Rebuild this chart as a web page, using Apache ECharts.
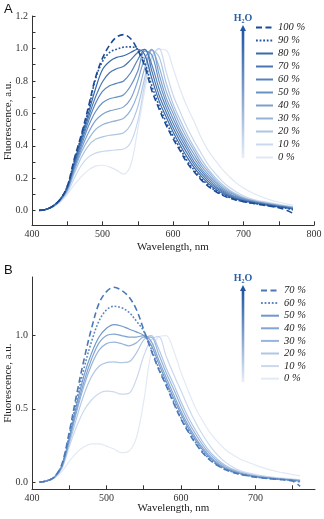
<!DOCTYPE html>
<html>
<head>
<meta charset="utf-8">
<script src="https://cdn.jsdelivr.net/npm/echarts@6/dist/echarts.min.js"></script>
<style>
  html, body { margin: 0; padding: 0; background: #fff; }
  #chart-container { width: 324px; height: 519px; }
</style>
</head>
<body>
<div id="chart-container"></div>
<script>
// wavelength grids (nm)
var wlA = [410,420,430,440,450,460,470,480,490,500,510,520,530,540,550,560,570,580,590,600,610,620,630,640,650,660,670,680,690,700,710,720,730,740,750,760,770];
var wlB = [410,420,430,440,450,460,470,480,490,500,510,520,530,540,550,560,570,580,590,600,610,620,630,640,650,660,670,680,690,700,710,720,730,740,750,760];

// panel A, water fraction 100 % ... 0 %
var a100 = [0.002,0.008,0.03,0.07,0.15,0.32,0.47,0.64,0.82,0.94,1.02,1.07,1.085,1.06,0.99,0.89,0.74,0.63,0.53,0.445,0.37,0.295,0.24,0.19,0.15,0.12,0.096,0.078,0.065,0.055,0.047,0.04,0.033,0.026,0.018,0.005,-0.016];
var a90 = [0.002,0.008,0.03,0.07,0.15,0.31,0.46,0.62,0.81,0.92,0.975,0.995,1.008,1.01,0.995,0.91,0.77,0.65,0.55,0.462,0.384,0.309,0.25,0.199,0.157,0.125,0.1,0.082,0.067,0.057,0.048,0.041,0.035,0.028,0.022,0.016,0.005];
var a80 = [0.002,0.008,0.03,0.07,0.145,0.30,0.45,0.60,0.75,0.87,0.92,0.945,0.955,0.975,0.995,0.96,0.815,0.68,0.58,0.487,0.405,0.33,0.265,0.213,0.168,0.134,0.107,0.087,0.071,0.06,0.051,0.043,0.036,0.03,0.024,0.018,0.01];
var a70 = [0.002,0.008,0.029,0.069,0.142,0.29,0.435,0.575,0.70,0.795,0.85,0.875,0.89,0.93,0.975,0.995,0.86,0.715,0.61,0.513,0.429,0.354,0.283,0.229,0.181,0.144,0.115,0.092,0.075,0.063,0.054,0.046,0.038,0.031,0.025,0.019,0.012];
var a60 = [0.002,0.008,0.028,0.068,0.14,0.28,0.42,0.55,0.66,0.735,0.77,0.785,0.80,0.85,0.93,0.995,0.90,0.755,0.64,0.54,0.453,0.377,0.301,0.245,0.195,0.153,0.123,0.098,0.08,0.066,0.056,0.048,0.041,0.034,0.027,0.021,0.014];
var a50 = [0.002,0.008,0.028,0.066,0.135,0.27,0.40,0.52,0.61,0.665,0.69,0.70,0.715,0.77,0.86,0.985,0.96,0.80,0.67,0.57,0.478,0.398,0.323,0.26,0.208,0.164,0.131,0.105,0.085,0.07,0.059,0.05,0.043,0.036,0.029,0.023,0.016];
var a40 = [0.002,0.008,0.027,0.064,0.13,0.26,0.38,0.48,0.555,0.595,0.615,0.625,0.64,0.69,0.80,0.94,0.995,0.845,0.70,0.60,0.50,0.42,0.346,0.277,0.224,0.177,0.14,0.112,0.091,0.074,0.062,0.053,0.045,0.038,0.031,0.025,0.018];
var a30 = [0.002,0.008,0.026,0.062,0.125,0.245,0.36,0.44,0.50,0.53,0.545,0.555,0.57,0.62,0.72,0.88,0.99,0.89,0.74,0.63,0.53,0.445,0.37,0.295,0.24,0.19,0.15,0.12,0.096,0.078,0.065,0.055,0.047,0.04,0.033,0.026,0.02];
var a20 = [0.002,0.008,0.025,0.06,0.12,0.23,0.33,0.40,0.44,0.455,0.465,0.47,0.48,0.53,0.64,0.82,0.99,0.95,0.79,0.66,0.56,0.47,0.39,0.318,0.255,0.204,0.161,0.128,0.103,0.083,0.069,0.058,0.05,0.042,0.035,0.028,0.022];
var a10 = [0.002,0.008,0.024,0.058,0.11,0.20,0.28,0.33,0.355,0.365,0.37,0.375,0.38,0.42,0.55,0.78,0.95,1.0,0.86,0.715,0.61,0.513,0.429,0.354,0.283,0.229,0.181,0.144,0.115,0.092,0.075,0.063,0.055,0.047,0.039,0.031,0.025];
var a0 = [0.002,0.007,0.022,0.052,0.10,0.16,0.21,0.25,0.275,0.28,0.27,0.25,0.225,0.28,0.50,0.74,0.93,0.995,0.99,0.88,0.75,0.64,0.55,0.45,0.37,0.31,0.255,0.21,0.17,0.14,0.115,0.095,0.078,0.064,0.052,0.042,0.034];

// panel B, water fraction 70 % ... 0 %
var b70 = [0.0,0.008,0.035,0.12,0.34,0.60,0.84,1.05,1.22,1.30,1.33,1.31,1.265,1.18,1.04,0.90,0.77,0.66,0.54,0.43,0.34,0.26,0.195,0.145,0.11,0.083,0.065,0.052,0.042,0.033,0.027,0.022,0.018,0.013,0.006,-0.03];
var b60 = [0.0,0.008,0.034,0.115,0.32,0.56,0.78,0.96,1.10,1.175,1.20,1.19,1.16,1.10,1.03,0.91,0.78,0.67,0.55,0.44,0.35,0.268,0.20,0.15,0.113,0.086,0.067,0.053,0.043,0.034,0.028,0.023,0.019,0.015,0.011,0.0];
var b50 = [0.0,0.008,0.033,0.11,0.30,0.53,0.73,0.88,0.99,1.05,1.075,1.065,1.045,1.025,1.0,0.935,0.81,0.69,0.575,0.465,0.367,0.284,0.214,0.16,0.12,0.09,0.071,0.056,0.045,0.036,0.029,0.024,0.02,0.016,0.012,0.005];
var b40 = [0.0,0.008,0.032,0.105,0.29,0.50,0.69,0.84,0.95,1.0,1.01,1.0,0.99,0.99,1.0,0.96,0.835,0.715,0.60,0.485,0.385,0.30,0.227,0.17,0.127,0.096,0.074,0.058,0.047,0.038,0.031,0.026,0.021,0.017,0.013,0.008];
var b30 = [0.0,0.008,0.031,0.10,0.28,0.48,0.66,0.80,0.90,0.945,0.955,0.945,0.93,0.95,0.99,0.99,0.874,0.748,0.636,0.518,0.412,0.324,0.247,0.185,0.138,0.104,0.079,0.062,0.05,0.04,0.033,0.027,0.022,0.018,0.014,0.01];
var b20 = [0.0,0.008,0.03,0.095,0.26,0.44,0.60,0.72,0.79,0.815,0.82,0.815,0.82,0.88,0.97,1.0,0.91,0.78,0.67,0.55,0.44,0.35,0.268,0.20,0.15,0.113,0.086,0.068,0.054,0.044,0.036,0.03,0.025,0.02,0.016,0.012];
var b10 = [0.0,0.008,0.029,0.09,0.24,0.38,0.49,0.56,0.605,0.62,0.615,0.60,0.605,0.70,0.86,0.97,0.995,0.86,0.737,0.624,0.507,0.403,0.316,0.24,0.18,0.134,0.101,0.077,0.062,0.051,0.042,0.035,0.029,0.024,0.019,0.015];
var b0 = [0.0,0.006,0.025,0.07,0.14,0.20,0.24,0.26,0.26,0.245,0.225,0.20,0.21,0.30,0.55,0.88,0.99,1.0,0.90,0.75,0.62,0.50,0.41,0.33,0.27,0.22,0.185,0.155,0.135,0.115,0.098,0.083,0.07,0.06,0.05,0.042];

var labelsA = ['100 %','90 %','80 %','70 %','60 %','50 %','40 %','30 %','20 %','10 %','0 %'];
var labelsB = ['70 %','60 %','50 %','40 %','30 %','20 %','10 %','0 %'];
var dataA = [a100, a90, a80, a70, a60, a50, a40, a30, a20, a10, a0];
var dataB = [b70, b60, b50, b40, b30, b20, b10, b0];
var colorsA = ['#1b4a93','#2457a1','#3a6aab','#4876b3','#5783bb','#6891c4','#7d9fcc','#94b2d7','#aec5e2','#c9d8ed','#e0e8f5'];
var colorsB = ['#4a78b8','#5d88c2','#7198cb','#82a5d2','#97b4da','#b0c6e4','#cad9ee','#e2eaf6'];

var xTicksA = [400, 500, 600, 700, 800];
var xTicksB = [400, 500, 600, 700];
var yTicksA = [0, 0.2, 0.4, 0.6, 0.8, 1.0, 1.2];
var yTicksB = [0, 0.5, 1.0];

var serif = 'Liberation Serif';
var dom = document.getElementById('chart-container');
var myChart = echarts.init(dom, null, { renderer: 'canvas' });

function pairs(xs, ys) {
  return xs.map(function (x, i) { return [x, ys[i]]; });
}

function lineType(label, first, second) {
  if (label === first) return [6, 3.5];
  if (label === second) return [1.8, 1.8];
  return 'solid';
}

var series = [];
// draw lighter curves first so the dark ones sit on top
for (var i = labelsA.length - 1; i >= 0; i--) {
  series.push({
    name: 'A ' + labelsA[i], type: 'line', xAxisIndex: 0, yAxisIndex: 0,
    data: pairs(wlA, dataA[i]), smooth: 0.35, symbol: 'none', animation: false,
    color: colorsA[i],
    lineStyle: { width: i < 2 ? 1.6 : 1.2, color: colorsA[i], type: lineType(labelsA[i], '100 %', '90 %') }
  });
}
for (var j = labelsB.length - 1; j >= 0; j--) {
  series.push({
    name: 'B ' + labelsB[j], type: 'line', xAxisIndex: 1, yAxisIndex: 1,
    data: pairs(wlB, dataB[j]), smooth: 0.35, symbol: 'none', animation: false,
    color: colorsB[j],
    lineStyle: { width: j < 2 ? 1.6 : 1.2, color: colorsB[j], type: lineType(labelsB[j], '70 %', '60 %') }
  });
}

function range(a, b, s) {
  var out = [];
  for (var v = a; v <= b + 1e-9; v += s) out.push(Math.round(v * 100) / 100);
  return out;
}

function xAxisOf(idx, max, labels, gap) {
  return {
    type: 'value', gridIndex: idx, min: 400, max: max,
    name: 'Wavelength, nm', nameLocation: 'middle', nameGap: gap, nameMoveOverlap: false,
    nameTextStyle: { fontFamily: serif, fontSize: 11, color: '#222' },
    axisLine: { show: true, onZero: false, lineStyle: { color: '#333', width: 1 } },
    axisTick: { show: true, inside: true, length: 4, customValues: range(400, max, 50), lineStyle: { color: '#333' } },
    axisLabel: { customValues: labels, fontFamily: serif, fontSize: 10, color: '#333', margin: 4 },
    splitLine: { show: false }
  };
}

function yAxisOf(idx, min, max, labels, step) {
  return {
    type: 'value', gridIndex: idx, min: min, max: max,
    name: 'Fluorescence, a.u.', nameLocation: 'middle', nameGap: 18, nameMoveOverlap: false,
    nameTextStyle: { fontFamily: serif, fontSize: 11, color: '#222' },
    axisLine: { show: true, onZero: false, lineStyle: { color: '#333', width: 1 } },
    axisTick: { show: true, inside: true, length: 3.5, customValues: range(0, max, step), lineStyle: { color: '#333' } },
    axisLabel: { customValues: labels, fontFamily: serif, fontSize: 10, color: '#333', margin: 4,
      formatter: function (v) { return v.toFixed(1); } },
    splitLine: { show: false }
  };
}

function legendOf(prefix, labels, left, top, gap, textGap, width) {
  return {
    orient: 'vertical', left: left, top: top, itemGap: gap, itemWidth: width, itemHeight: 10,
    itemTextGap: textGap, padding: 0, selectedMode: false,
    itemStyle: { opacity: 0 },
    data: labels.map(function (l) { return prefix + l; }),
    formatter: function (n) { return n.slice(2); },
    textStyle: { fontFamily: serif, fontStyle: 'italic', fontSize: 10.5, color: '#222', lineHeight: 11 }
  };
}

function arrow(cx, top, bottom, textY) {
  return [
    { type: 'rect', shape: { x: cx - 1.3, y: top + 5, width: 2.6, height: bottom - top - 5 },
      style: { fill: new echarts.graphic.LinearGradient(0, 0, 0, 1, [
        { offset: 0, color: '#1f56a3' }, { offset: 1, color: '#e6eef8' }]) }, silent: true },
    { type: 'polygon', shape: { points: [[cx, top], [cx - 3, top + 6], [cx + 3, top + 6]] },
      style: { fill: '#1f56a3' }, silent: true },
    { type: 'text', x: cx, y: textY, silent: true,
      style: { text: 'H₂O', fontFamily: serif, fontWeight: 'bold', fontSize: 10, fill: '#2a5fa8',
        align: 'center', verticalAlign: 'middle' } }
  ];
}

var option = {
  backgroundColor: '#fff',
  animation: false,
  grid: [
    { left: 32, top: 16, width: 282, height: 209.3, outerBoundsMode: 'none', containLabel: false },
    { left: 32, top: 277, width: 283, height: 212.3, outerBoundsMode: 'none', containLabel: false }
  ],
  xAxis: [xAxisOf(0, 800, xTicksA, 16), xAxisOf(1, 780, xTicksB, 13)],
  yAxis: [yAxisOf(0, -0.09, 1.2, yTicksA, 0.1), yAxisOf(1, -0.05, 1.4, yTicksB, 0.5)],
  legend: [
    legendOf('A ', labelsA, 255, 22, 2, 8, 17),
    legendOf('B ', labelsB, 260, 285, 1.6, 7, 18)
  ],
  graphic: [
    { type: 'text', x: 4, y: 3, silent: true, style: { text: 'A', fontFamily: 'Liberation Sans', fontSize: 13, fill: '#111' } },
    { type: 'text', x: 4, y: 264, silent: true, style: { text: 'B', fontFamily: 'Liberation Sans', fontSize: 13, fill: '#111' } }
  ].concat(arrow(243, 25, 158, 18)).concat(arrow(243, 285, 382, 278)),
  series: series
};

myChart.setOption(option);
window.addEventListener('resize', myChart.resize);
</script>
</body>
</html>
